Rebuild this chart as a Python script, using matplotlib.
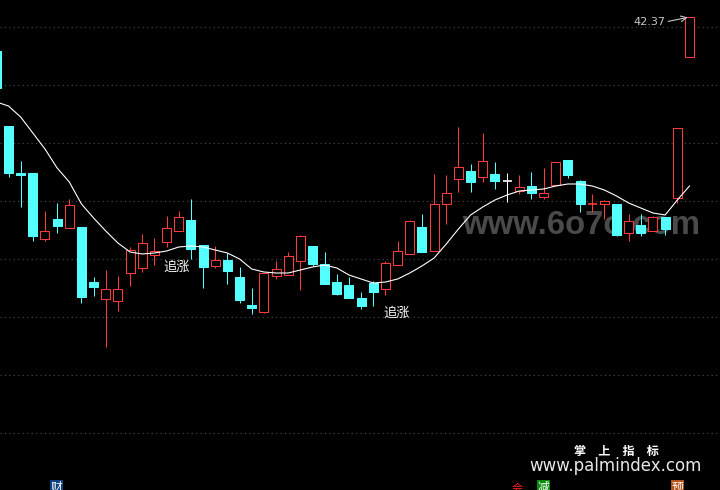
import matplotlib
matplotlib.use('Agg')
import matplotlib.pyplot as plt
from matplotlib.patches import Rectangle

plt.rcParams['font.family'] = ['Noto Sans CJK SC', 'DejaVu Sans']

# ---- data ----
opens = [40.67, 36.92, 34.55, 34.57, 31.27, 32.27, 31.82, 31.87, 29.12, 28.27,
         28.17, 29.57, 29.82, 30.47, 31.12, 31.67, 32.22, 30.97, 29.92, 30.22,
         29.37, 27.97, 27.62, 29.42, 29.47, 30.17, 30.92, 30.02, 29.12, 28.97,
         28.32, 29.07, 28.77, 29.97, 30.52, 31.87, 30.67, 33.02, 34.27, 34.67,
         34.37, 34.52, 34.17, 33.67, 33.92, 33.37, 33.97, 35.22, 34.17, 33.00,
         33.02, 33.02, 31.57, 31.97, 31.67, 32.37, 33.32, 40.37]
highs = [40.67, 36.92, 35.17, 34.57, 32.67, 33.07, 33.27, 31.87, 29.37, 29.72,
         29.42, 30.87, 31.52, 31.32, 32.42, 32.67, 33.27, 30.97, 30.92, 30.57,
         29.87, 28.82, 29.57, 30.17, 30.62, 31.47, 30.92, 30.62, 29.52, 29.37,
         28.62, 29.17, 30.17, 31.17, 32.22, 32.52, 34.52, 34.47, 36.87, 35.02,
         36.57, 35.12, 34.57, 34.47, 34.62, 34.82, 35.12, 35.22, 34.22, 33.52,
         33.22, 33.02, 32.52, 32.52, 32.42, 32.37, 36.82, 42.37]
lows = [38.82, 34.37, 32.87, 31.17, 31.17, 31.57, 31.82, 28.07, 28.42, 25.87,
        27.67, 28.92, 29.62, 29.97, 30.87, 31.67, 30.27, 28.82, 29.82, 29.02,
        28.07, 27.52, 27.57, 29.27, 29.47, 28.72, 29.92, 29.02, 28.47, 28.32,
        27.77, 27.92, 28.47, 29.97, 30.52, 30.62, 30.67, 32.02, 33.62, 33.62,
        34.12, 33.77, 33.12, 33.52, 33.27, 33.27, 33.92, 34.32, 32.62, 32.62,
        32.27, 31.42, 31.17, 31.42, 31.67, 31.47, 33.07, 40.37]
closes = [38.82, 34.57, 34.47, 31.42, 31.67, 31.92, 32.97, 28.37, 28.87, 28.77,
          28.77, 30.72, 31.07, 30.67, 31.82, 32.37, 30.77, 29.87, 30.22, 29.67,
          28.22, 27.82, 29.57, 29.77, 30.42, 31.42, 30.02, 29.02, 28.52, 28.32,
          27.92, 28.62, 30.07, 30.67, 32.17, 30.62, 33.02, 33.57, 34.87, 34.12,
          35.17, 34.17, 34.17, 33.87, 33.57, 33.57, 35.12, 34.47, 33.02, 33.04,
          33.17, 31.47, 32.17, 31.57, 32.37, 31.77, 36.82, 42.37]
trend_line = [38.12, 37.92, 37.37, 36.57, 35.77, 34.82, 34.12, 33.02, 32.32, 31.67,
              31.07, 30.62, 30.52, 30.57, 30.67, 30.87, 30.92, 30.87, 30.72, 30.57,
              30.27, 29.77, 29.62, 29.57, 29.57, 29.72, 29.87, 29.97, 29.82, 29.47,
              29.27, 29.07, 29.12, 29.27, 29.57, 29.92, 30.32, 31.02, 31.77, 32.47,
              32.87, 33.22, 33.47, 33.67, 33.72, 33.77, 33.92, 34.02, 34.02, 33.92,
              33.72, 33.42, 33.07, 32.82, 32.57, 32.47, 33.22, 33.92]
grid_levels = [41.85, 38.95, 36.05, 33.15, 30.25, 27.35, 24.45, 21.55]
signal_labels = ['追涨', '追涨']
signal_index = [14.8, 32.9]
signal_price = [29.85, 27.55]
high_label = '42.37'

UP = '#ff3b3b'
DOWN = '#54ffff'
W, H = 720, 490

fig = plt.figure(figsize=(7.2, 4.9), dpi=100, facecolor='black')
ax = fig.add_axes([0, 0, 1, 1])
ax.set_facecolor('black')
ax.set_xlim(0.301, 59.51)
ax.set_ylim(18.72, 43.22)
ax.axis('off')

def fx(x):
    return x / W

def fy(y):
    return 1 - y / H

# grid
for g in grid_levels:
    ax.axhline(g, color='#4d4d4d', lw=0.8, ls=(0, (1, 3)), zorder=0.5)

# watermark
ax.text(fx(462), fy(225), 'www.6o7o.com', transform=ax.transAxes, ha='left',
        va='center', fontsize=23.7, color='#4a4a4a', fontweight='bold',
        family=['Liberation Sans', 'DejaVu Sans'], zorder=1)

# candles
bw = 0.74
lw = 0.75
min_h = 0.05
for i, (o, h, l, c) in enumerate(zip(opens, highs, lows, closes)):
    if c > o:
        col, face = UP, 'black'
    elif c < o:
        col, face = DOWN, DOWN
    else:
        col, face = 'white', 'white'
    ax.vlines(i, l, h, color=col, lw=lw, zorder=2)
    bot = min(o, c)
    ht = abs(c - o)
    if ht < min_h:
        ax.hlines((o + c) / 2, i - bw / 2, i + bw / 2, color=col, lw=1.2, zorder=3)
    else:
        ax.add_patch(Rectangle((i - bw / 2, bot), bw, ht, facecolor=face,
                               edgecolor=col, lw=lw, zorder=3))

# trend line
ax.plot(range(len(trend_line)), trend_line, color='white', lw=0.8, zorder=4)

# signals
for lab, xi, yp in zip(signal_labels, signal_index, signal_price):
    ax.text(xi, yp, lab, color='white', fontsize=9.5, ha='center', va='center',
            zorder=5)

# high marker
ax.annotate('', xy=(56.85, 42.35), xytext=(55.25, 42.15),
            arrowprops=dict(arrowstyle='->', color='#c8c8c8', lw=0.8,
                            shrinkA=0, shrinkB=0), zorder=5)
ax.text(55.0, 42.12, high_label, color='#c8c8c8', fontsize=8, ha='right',
        va='center', family=['DejaVu Sans'], zorder=5)

# footer text
ax.text(fx(616), fy(451), '掌\u3000上\u3000指\u3000标', transform=ax.transAxes,
        color='white', fontsize=8.7, fontweight='bold', ha='center', va='center',
        zorder=6)
ax.text(fx(615), fy(466), 'www.palmindex.com', transform=ax.transAxes,
        color='#e8e8e8', fontsize=12, ha='center', va='center',
        family=['DejaVu Sans'], zorder=6)

# bottom icons (cut by the frame, as in the reference)
for (x0, ch, bg) in [(50, '财', '#0f4080'), (537, '减', '#0a8a0a'), (671, '预', '#b0501a')]:
    ax.add_patch(Rectangle((fx(x0), 0), 13 / W, 10 / H, transform=ax.transAxes,
                           facecolor=bg, edgecolor='none', zorder=6))
    ax.text(fx(x0 + 6.5), fy(487), ch, transform=ax.transAxes, color='white',
            fontsize=8.5, ha='center', va='center', zorder=7)
ax.text(fx(517), fy(489), '会', transform=ax.transAxes, color='#ff2020',
        fontsize=8, ha='center', va='center', zorder=7)

fig.savefig('out.png', dpi=100, facecolor='black')
